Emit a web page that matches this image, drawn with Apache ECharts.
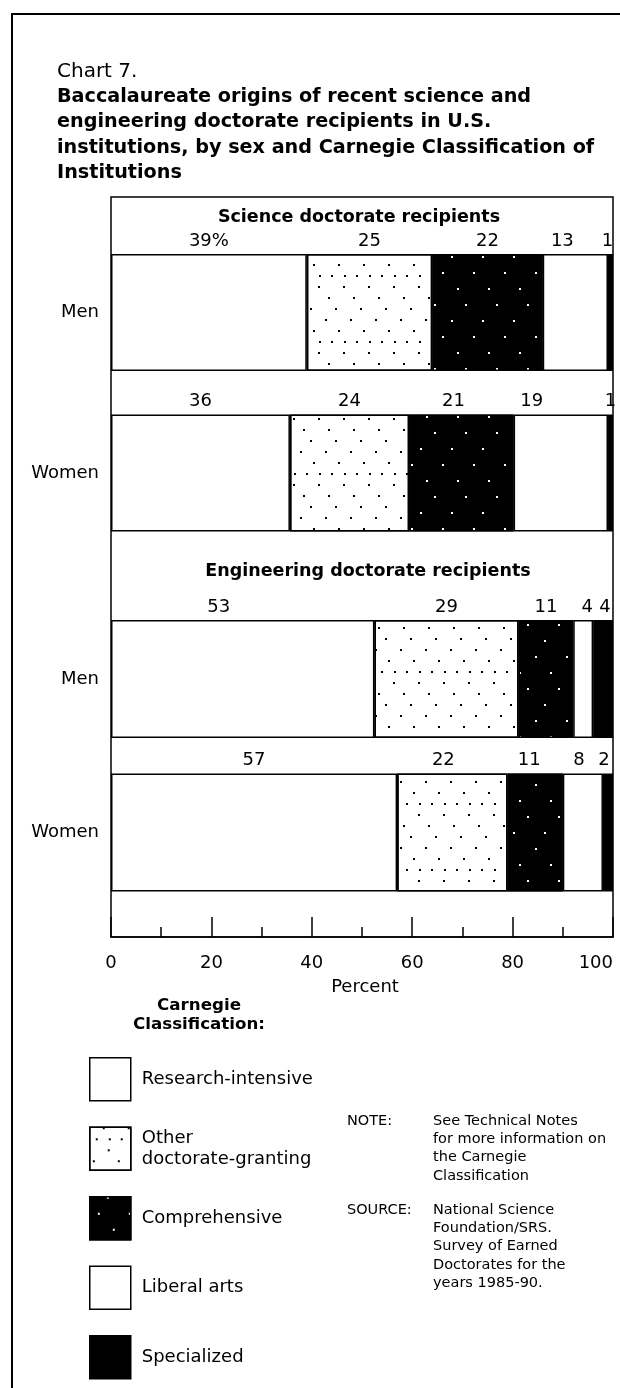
<!DOCTYPE html>
<html>
<head>
<meta charset="utf-8">
<script src="https://cdn.jsdelivr.net/npm/echarts@6/dist/echarts.min.js"></script>
<style>html,body{margin:0;padding:0;background:#fff}#c{width:620px;height:1388px}</style>
</head>
<body>
<div id="c"></div>
<script>
// ---- data ----
const classes = ['Research-intensive', 'Other doctorate-granting', 'Comprehensive', 'Liberal arts', 'Specialized'];
const sexes = ['Men', 'Women'];
const scienceMen = [39, 25, 22, 13, 1];
const scienceWomen = [36, 24, 21, 19, 1];
const engineeringMen = [53, 29, 11, 4, 4];
const engineeringWomen = [57, 22, 11, 8, 2];
const xTicks = [0, 20, 40, 60, 80, 100];
const sectionTitles = ['Science doctorate recipients', 'Engineering doctorate recipients'];
const chartNumber = 'Chart 7.';
const titleLines = [
  'Baccalaureate origins of recent science and',
  'engineering doctorate recipients in U.S.',
  'institutions, by sex and Carnegie Classification of',
  'Institutions'
];
const axisName = 'Percent';
const legendTitle = ['Carnegie', 'Classification:'];
const noteLines = ['See Technical Notes', 'for more information on', 'the Carnegie', 'Classification'];
const sourceLines = ['National Science', 'Foundation/SRS.', 'Survey of Earned', 'Doctorates for the', 'years 1985-90.'];

// ---- style ----
const FONT = 'DejaVu Sans';
const labelShift = {
  sci: [[0, 0, 0, -13, -3], [0, 0, -8, -29, 0]],
  eng: [[-24, 0, 0, 4, 2], [0, -9, -6, -4, -4]]
};
const otherDecal = {
  symbol: 'rect', symbolSize: 1, color: '#000',
  dashArrayX: [[1.5, 22.5], [0, 13, 1.5, 9.5], [0, 6, 1.5, 11, 1.5, 4], [0, 18, 1.5, 4.5], [0, 3, 1.5, 19.5], [0, 10, 1.5, 12.5]],
  dashArrayY: [1.5, 9], rotation: 0
};
const compDecal = {
  symbol: 'rect', symbolSize: 1, color: '#fff',
  dashArrayX: [[1.5, 28.5], [0, 17, 1.5, 11.5], [0, 8, 1.5, 20.5], [0, 23, 1.5, 5.5]],
  dashArrayY: [1.5, 13.5], rotation: 0
};
const fills = ['#ffffff', '#ffffff', '#000000', '#ffffff', '#000000'];
const decals = [null, otherDecal, compDecal, null, null];

const share = row => { const t = row.reduce((a, b) => a + b, 0); return row.map(v => v / t * 100); };

function makeSeries(rows, key, axisIdx, barW) {
  const sh = rows.map(share);
  return classes.map((name, k) => ({
    type: 'bar', name, stack: key, xAxisIndex: axisIdx, yAxisIndex: axisIdx, barWidth: barW,
    itemStyle: Object.assign({ color: fills[k], borderColor: '#000', borderWidth: 1.5 }, decals[k] ? { decal: decals[k] } : {}),
    label: {
      show: true, position: 'top', distance: 4, fontSize: 18, color: '#000', fontFamily: FONT,
      formatter: p => String(rows[p.dataIndex][k]) + (key === 'sci' && k === 0 && p.dataIndex === 0 ? '%' : '')
    },
    data: sh.map((r, i) => ({ value: r[k], label: { offset: [labelShift[key][i][k], 0] } }))
  }));
}

const txt = (x, y, text, size, weight, align) => ({
  type: 'text', x, y, silent: true,
  style: { text, fontSize: size, fontWeight: weight || 'normal', fontFamily: FONT, fill: '#000', align: align || 'left', verticalAlign: 'middle' }
});

const graphics = [
  { type: 'polyline', silent: true, shape: { points: [[12, 1388], [12, 14], [620, 14]] }, style: { stroke: '#000', lineWidth: 2, fill: null } },
  txt(57, 72, chartNumber, 20, 'normal')
];
const titleY = [97, 122.5, 148, 173];
titleLines.forEach((t, i) => graphics.push(txt(57, titleY[i], t, 19.2, 'bold')));
graphics.push(txt(359, 217, sectionTitles[0], 17.5, 'bold', 'center'));
graphics.push(txt(368, 571, sectionTitles[1], 17.5, 'bold', 'center'));
graphics.push(txt(199, 1006, legendTitle[0], 16.7, 'bold', 'center'));
graphics.push(txt(199, 1025, legendTitle[1], 16.7, 'bold', 'center'));
graphics.push(txt(347, 1121, 'NOTE:', 14.5, 'normal'));
noteLines.forEach((t, i) => graphics.push(txt(433, 1121 + i * 18.3, t, 14.5, 'normal')));
graphics.push(txt(347, 1210, 'SOURCE:', 14.5, 'normal'));
sourceLines.forEach((t, i) => graphics.push(txt(433, 1210 + i * 18.3, t, 14.5, 'normal')));

const hiddenX = idx => ({ gridIndex: idx, type: 'value', min: xTicks[0], max: xTicks[xTicks.length - 1], show: false });
const catY = idx => ({
  gridIndex: idx, type: 'category', data: sexes, inverse: true,
  axisLine: { show: false }, axisTick: { show: false }, splitLine: { show: false },
  axisLabel: { fontSize: 18, color: '#000', margin: 12, fontFamily: FONT }
});

const option = {
  animation: false,
  backgroundColor: '#fff',
  textStyle: { fontFamily: FONT, color: '#000' },
  grid: [
    { left: 111, right: 7, top: 197, bottom: 451, show: true, borderColor: '#000', borderWidth: 1.5, backgroundColor: 'transparent', containLabel: false, outerBoundsMode: 'none' },
    { left: 111, right: 7, top: 232.25, bottom: 834.75, containLabel: false, outerBoundsMode: 'none' },
    { left: 111, right: 7, top: 602.25, bottom: 478.75, containLabel: false, outerBoundsMode: 'none' }
  ],
  xAxis: [
    {
      gridIndex: 0, type: 'value', min: xTicks[0], max: xTicks[xTicks.length - 1], interval: xTicks[1] - xTicks[0],
      axisLine: { show: true, lineStyle: { color: '#000', width: 1.5 } },
      axisTick: { show: true, inside: true, length: 20, lineStyle: { color: '#000', width: 1.5 } },
      minorTick: { show: true, splitNumber: 2, length: 10, lineStyle: { color: '#000', width: 1.5 } },
      splitLine: { show: false },
      axisLabel: { fontSize: 18, color: '#000', margin: 17, fontFamily: FONT, alignMaxLabel: 'right' },
      name: axisName, nameLocation: 'middle', nameGap: 41,
      nameTextStyle: { fontSize: 18, color: '#000', fontFamily: FONT, padding: [0, 0, 0, 6] }
    },
    hiddenX(1), hiddenX(2)
  ],
  yAxis: [
    { gridIndex: 0, type: 'value', min: 0, max: 1, show: false },
    catY(1), catY(2)
  ],
  legend: {
    data: classes, orient: 'vertical', left: 89, top: 1057, padding: 0,
    itemWidth: 41, itemHeight: 43, itemGap: 25, icon: 'rect', selectedMode: false,
    itemStyle: { borderColor: '#000', borderWidth: 1.5 },
    textStyle: { fontSize: 18, color: '#000', lineHeight: 21.5, padding: [0, 0, 0, 6], fontFamily: FONT },
    formatter: n => n === 'Other doctorate-granting' ? 'Other\ndoctorate-granting' : n
  },
  series: [].concat(
    makeSeries([scienceMen, scienceWomen], 'sci', 1, 117),
    makeSeries([engineeringMen, engineeringWomen], 'eng', 2, 118)
  ),
  graphic: graphics
};

const chart = echarts.init(document.getElementById('c'), null, { renderer: 'canvas', width: 620, height: 1388 });
chart.setOption(option);
</script>
</body>
</html>
